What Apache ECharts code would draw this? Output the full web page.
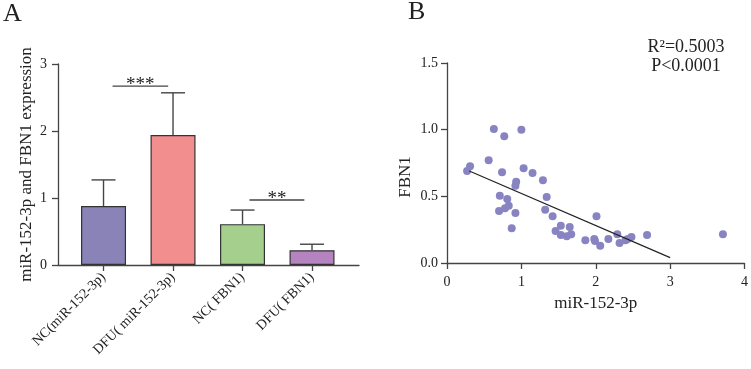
<!DOCTYPE html>
<html>
<head>
<meta charset="utf-8">
<script src="https://cdn.jsdelivr.net/npm/echarts@6/dist/echarts.min.js"></script>
<style>
  html, body { margin: 0; padding: 0; background: #fff; }
  #chart { width: 751px; height: 369px; }
</style>
</head>
<body>
<div id="chart"></div>
<script>
// panel A: bar chart with error bars
const categories = ["NC(miR-152-3p)", "DFU( miR-152-3p)", "NC( FBN1)", "DFU( FBN1)"]
const barMeans = [0.88, 1.94, 0.61, 0.22]
const barErrTop = [1.27, 2.57, 0.82, 0.31]
const barYTicks = [0, 1, 2, 3]
const sigFrom = [0.13, 2.1]
const sigTo = [0.93, 2.89]
const sigLevel = [2.67, 0.97]
const sigText = ["***", "**"]

// panel B: scatter with regression line
const scatterX = [0.27, 0.31, 0.63, 0.77, 1.0, 0.56, 0.74, 1.03, 1.15, 1.29, 0.93, 0.92, 1.34, 0.71, 0.81,
  0.83, 0.78, 0.70, 0.92, 1.32, 1.42, 0.87, 2.01, 1.53, 1.65, 1.46, 1.53, 1.61, 1.67, 1.86, 1.98, 1.99,
  2.06, 2.17, 2.29, 2.32, 2.40, 2.48, 2.69, 3.71, 2.43]
const scatterY = [0.69, 0.725, 1.005, 0.95, 1.0, 0.77, 0.68, 0.71, 0.675, 0.62, 0.61, 0.58, 0.495, 0.505, 0.48,
  0.43, 0.41, 0.39, 0.375, 0.40, 0.35, 0.26, 0.35, 0.28, 0.27, 0.24, 0.21, 0.20, 0.215, 0.17, 0.18, 0.165,
  0.13, 0.18, 0.215, 0.15, 0.17, 0.195, 0.21, 0.215, 0.18]
const fitX = [0.3, 3.0]
const fitY = [0.69, 0.04]
const scatterYTicks = [0, 0.5, 1, 1.5]
const statLines = ["R\u00b2=0.5003", "P<0.0001"]

const barColors = ["#8a83b8", "#f28f8e", "#a4cf8c", "#b583c0"]
const FONT = "Liberation Serif"
const INK = "#222"
const AXIS = "#444"

const chart = echarts.init(document.getElementById("chart"))

const axisCommon = {
  axisLine: { show: true, onZero: false, lineStyle: { color: AXIS, width: 1.3 } },
  axisTick: { show: true, length: 6, lineStyle: { color: AXIS, width: 1.3 } },
  splitLine: { show: false },
}

const statText = statLines.map((t, i) => ({
  type: "text",
  style: { text: t, x: 686, y: 47 + i * 19, align: "center", verticalAlign: "middle", fontSize: 18, fontFamily: FONT, fill: INK },
}))

const option = {
  animation: false,
  backgroundColor: "#fff",
  textStyle: { fontFamily: FONT, color: INK },
  graphic: [
    { type: "text", left: 3, top: 1, style: { text: "A", fontSize: 26, fontFamily: FONT, fill: INK } },
    { type: "text", left: 408, top: -1, style: { text: "B", fontSize: 26, fontFamily: FONT, fill: INK } },
    ...statText,
  ],
  grid: [
    { left: 58, top: 64, right: 392, bottom: 104 },
    { left: 447, top: 63, right: 3, bottom: 106 },
  ],
  xAxis: [
    {
      ...axisCommon,
      gridIndex: 0,
      type: "value",
      min: -0.655,
      max: 3.676,
      axisTick: { ...axisCommon.axisTick, customValues: [0, 1, 2, 3] },
      axisLabel: {
        customValues: [0, 1, 2, 3],
        rotate: 45,
        margin: 10,
        fontSize: 14,
        fontFamily: FONT,
        color: INK,
        formatter: (v) => categories[Math.round(v)],
      },
    },
    {
      ...axisCommon,
      gridIndex: 1,
      type: "value",
      min: 0,
      max: 4,
      interval: 1,
      name: "miR-152-3p",
      nameLocation: "middle",
      nameGap: 32,
      nameTextStyle: { fontSize: 17, fontFamily: FONT, color: INK },
      axisLabel: { margin: 12, fontSize: 14, fontFamily: FONT, color: INK },
    },
  ],
  yAxis: [
    {
      ...axisCommon,
      gridIndex: 0,
      type: "value",
      min: barYTicks[0],
      max: barYTicks[barYTicks.length - 1],
      interval: 1,
      name: "miR-152-3p and FBN1 expression",
      nameLocation: "middle",
      nameGap: 23,
      nameTextStyle: { fontSize: 17, fontFamily: FONT, color: INK },
      axisLabel: { margin: 11, fontSize: 14, fontFamily: FONT, color: INK },
    },
    {
      ...axisCommon,
      gridIndex: 1,
      type: "value",
      min: scatterYTicks[0],
      max: scatterYTicks[scatterYTicks.length - 1],
      interval: 0.5,
      name: "FBN1",
      nameLocation: "middle",
      nameGap: 33,
      nameTextStyle: { fontSize: 17, fontFamily: FONT, color: INK, padding: [0, 28, 0, 0] },
      axisLabel: { margin: 9, fontSize: 14, fontFamily: FONT, color: INK, formatter: (v) => v.toFixed(1) },
    },
  ],
  series: [
    {
      type: "bar",
      xAxisIndex: 0,
      yAxisIndex: 0,
      barWidth: 45,
      data: barMeans.map((v, i) => ({
        value: [i, v],
        itemStyle: { color: barColors[i], borderColor: "#333", borderWidth: 1.2 },
      })),
      z: 2,
    },
    {
      type: "custom",
      xAxisIndex: 0,
      yAxisIndex: 0,
      data: barMeans.map((v, i) => [i, v, barErrTop[i]]),
      renderItem(params, api) {
        const p0 = api.coord([api.value(0), api.value(1)])
        const p1 = api.coord([api.value(0), api.value(2)])
        const st = { stroke: AXIS, lineWidth: 1.4 }
        return {
          type: "group",
          children: [
            { type: "line", shape: { x1: p0[0], y1: p0[1], x2: p1[0], y2: p1[1] }, style: st },
            { type: "line", shape: { x1: p1[0] - 12, y1: p1[1], x2: p1[0] + 12, y2: p1[1] }, style: st },
          ],
        }
      },
      z: 3,
    },
    {
      type: "custom",
      xAxisIndex: 0,
      yAxisIndex: 0,
      data: sigFrom.map((v, i) => [v, sigTo[i], sigLevel[i]]),
      renderItem(params, api) {
        const a = api.coord([api.value(0), api.value(2)])
        const b = api.coord([api.value(1), api.value(2)])
        return {
          type: "group",
          children: [
            { type: "line", shape: { x1: a[0], y1: a[1], x2: b[0], y2: b[1] }, style: { stroke: AXIS, lineWidth: 1.3 } },
            {
              type: "text",
              style: {
                text: sigText[params.dataIndex],
                x: (a[0] + b[0]) / 2,
                y: a[1] - 1,
                align: "center",
                verticalAlign: "middle",
                fontSize: 19,
                fontFamily: FONT,
                fill: "#222",
              },
            },
          ],
        }
      },
      z: 3,
    },
    {
      type: "scatter",
      xAxisIndex: 1,
      yAxisIndex: 1,
      symbolSize: 8,
      itemStyle: { color: "#8884c2", opacity: 1 },
      data: scatterX.map((x, i) => [x, scatterY[i]]),
      z: 2,
    },
    {
      type: "line",
      xAxisIndex: 1,
      yAxisIndex: 1,
      showSymbol: false,
      lineStyle: { color: "#222", width: 1.2 },
      data: fitX.map((x, i) => [x, fitY[i]]),
      z: 3,
    },
  ],
}

chart.setOption(option)
</script>
</body>
</html>
